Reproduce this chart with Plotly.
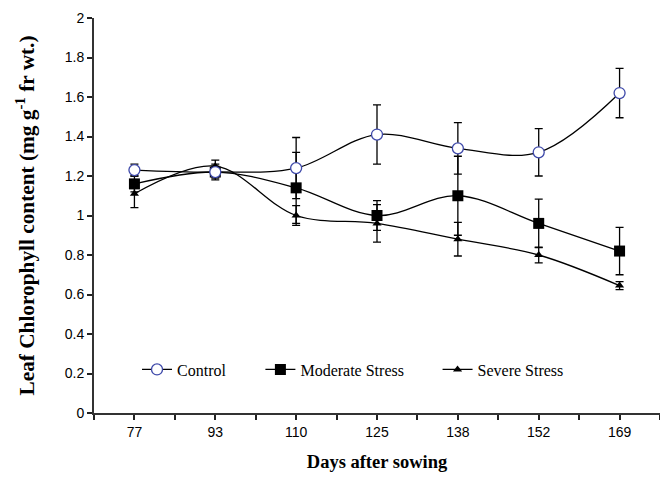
import plotly.graph_objects as go

days = ["77", "93", "110", "125", "138", "152", "169"]
control = [1.23, 1.22, 1.24, 1.41, 1.34, 1.32, 1.62]
control_err = [0.03, 0.03, 0.155, 0.15, 0.13, 0.12, 0.125]
moderate = [1.16, 1.22, 1.14, 1.00, 1.10, 0.96, 0.82]
moderate_err = [0.04, 0.04, 0.18, 0.075, 0.2, 0.123, 0.12]
severe = [1.11, 1.25, 1.00, 0.96, 0.88, 0.80, 0.645]
severe_err = [0.07, 0.03, 0.05, 0.095, 0.085, 0.04, 0.02]
yticks = [0, 0.2, 0.4, 0.6, 0.8, 1, 1.2, 1.4, 1.6, 1.8, 2]

xpos = list(range(len(days)))

fig = go.Figure()

def add(name, y, err, marker, legend):
    fig.add_trace(go.Scatter(
        x=xpos, y=y, name=name, mode="lines+markers",
        line=dict(color="black", width=1.3, shape="spline", smoothing=1),
        marker=marker,
        error_y=dict(type="data", array=err, color="black", thickness=1.3, width=4),
        legend=legend, showlegend=True,
    ))

add("Moderate Stress", moderate, moderate_err,
    dict(symbol="square", size=11, color="black"), "legend2")
add("Severe Stress", severe, severe_err,
    dict(symbol="triangle-up", size=8, color="black"), "legend3")
add("Control", control, control_err,
    dict(symbol="circle", size=11, color="white", line=dict(color="#3F4AAA", width=1.3)), "legend")

legfont = dict(family="Liberation Serif, Times New Roman, serif", size=16, color="black")
common = dict(orientation="h", yanchor="middle", xanchor="left", y=0.11,
              bgcolor="rgba(0,0,0,0)", font=legfont, itemwidth=30, visible=True)
fig.update_layout(
    showlegend=True,
    legend=dict(x=0.076, **common),
    legend2=dict(x=0.294, **common),
    legend3=dict(x=0.607, **common),
)

fig.update_layout(
    width=660, height=490,
    margin=dict(l=94, r=0, t=18, b=77),
    plot_bgcolor="white", paper_bgcolor="white",
    font=dict(family="Liberation Sans, Arial, sans-serif", size=14, color="black"),
    xaxis=dict(
        range=[-0.5, 6.5], tickmode="array", tickvals=xpos, ticktext=days,
        ticks="outside", ticklen=5, tickwidth=1.5, tickcolor="#222",
        showline=True, linecolor="#333", linewidth=2, showgrid=False, zeroline=False,
        minor=dict(ticks="outside", ticklen=5, tickwidth=1.5, tickcolor="#222",
                   tick0=-0.5, dtick=1, showgrid=False),
        tickfont=dict(size=14),
        title=dict(text="Days after sowing", standoff=16,
                   font=dict(family="Liberation Serif, Times New Roman, serif", size=18.5, weight="bold")),
    ),
    yaxis=dict(
        range=[0, 2], tickmode="array", tickvals=yticks,
        ticktext=[f"{v:g}" for v in yticks],
        ticks="outside", ticklen=5, tickwidth=1.5, tickcolor="#222",
        showline=True, linecolor="#333", linewidth=2, showgrid=False, zeroline=False,
        tickfont=dict(size=14),
        title=dict(text="Leaf Chlorophyll content (mg g<sup>-1</sup> fr wt.)", standoff=24,
                   font=dict(family="Liberation Serif, Times New Roman, serif", size=21.3, weight="bold")),
    ),
)

fig.write_html("out.html")
